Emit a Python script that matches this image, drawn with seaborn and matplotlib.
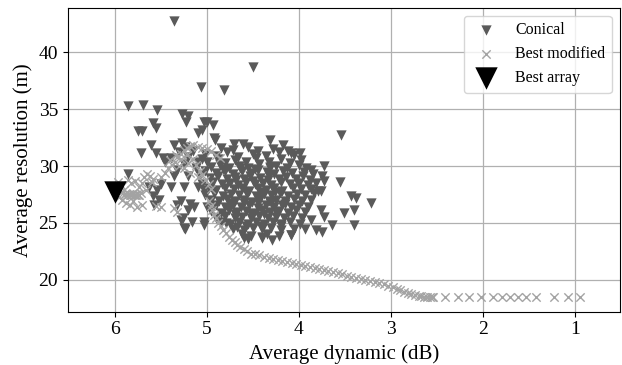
import matplotlib
matplotlib.use("Agg")
import matplotlib.pyplot as plt
import seaborn as sns
import pandas as pd

# ---------------- data ----------------
# Conical arrays: (average dynamic dB, average resolution m)
conical_dyn = [
    # sparse / outlying points
    5.36, 4.50, 5.06, 4.81, 5.86, 5.69, 5.54, 5.27, 5.20, 5.23, 5.58, 5.55, 5.75, 5.70,
    5.03, 5.00, 4.93, 5.05, 5.10, 4.92, 4.91, 5.61, 5.36, 5.27, 5.24, 4.71, 4.61, 4.31,
    4.17, 5.72, 5.55, 5.48, 5.45, 5.39, 4.09, 3.99, 3.54, 3.73, 3.87, 3.75, 3.73, 3.55,
    3.76, 3.44, 3.38, 3.22, 3.40, 3.51, 3.76, 3.73, 3.64, 3.40, 3.82, 3.75, 4.09, 3.94,
    3.87, 5.86, 5.63, 5.50, 5.39, 5.54, 5.59, 5.52, 5.57, 5.28, 5.32, 5.18, 5.25, 5.10,
    5.03, 5.36, 5.21, 5.07, 5.14, 5.21, 5.28, 5.25, 5.16, 5.03, 5.26, 5.24, 5.03, 4.79,
    4.67, 4.40, 4.09, 5.30, 5.20, 5.15, 5.10, 5.25, 5.12, 5.05, 5.32,
    # dense cluster
    4.85, 4.72, 4.55, 4.44, 4.28, 4.12,
    5.02, 4.90, 4.78, 4.66, 4.50, 4.36, 4.22, 4.05,
    5.00, 4.88, 4.80, 4.70, 4.58, 4.47, 4.33, 4.20, 4.10, 3.98,
    4.95, 4.86, 4.76, 4.65, 4.55, 4.43, 4.32, 4.25, 4.13, 4.00, 3.92,
    5.02, 4.90, 4.80, 4.72, 4.62, 4.52, 4.45, 4.35, 4.27, 4.17, 4.08, 3.95, 3.85,
    4.97, 4.88, 4.78, 4.70, 4.60, 4.53, 4.42, 4.33, 4.22, 4.14, 4.03, 3.96, 3.88,
    5.05, 4.93, 4.84, 4.75, 4.66, 4.57, 4.48, 4.39, 4.30, 4.20, 4.10, 4.00, 3.90, 3.82,
    4.98, 4.90, 4.80, 4.71, 4.62, 4.54, 4.45, 4.36, 4.27, 4.18, 4.07, 3.98, 3.87, 3.79,
    5.02, 4.92, 4.83, 4.74, 4.65, 4.56, 4.47, 4.38, 4.30, 4.21, 4.12, 4.02, 3.93, 3.84,
    4.96, 4.87, 4.78, 4.69, 4.60, 4.51, 4.42, 4.33, 4.25, 4.15, 4.05, 3.97, 3.87,
    5.00, 4.90, 4.80, 4.72, 4.63, 4.54, 4.45, 4.36, 4.27, 4.18, 4.09, 4.00, 3.90,
    4.95, 4.85, 4.76, 4.67, 4.58, 4.49, 4.40, 4.31, 4.22, 4.12, 4.03, 3.94,
    4.90, 4.80, 4.70, 4.62, 4.52, 4.43, 4.34, 4.25, 4.16, 4.06, 3.97,
    4.85, 4.75, 4.65, 4.55, 4.47, 4.38, 4.28, 4.19, 4.10, 3.99,
    4.72, 4.60, 4.50, 4.40, 4.30, 4.20, 4.05,
    4.62, 4.52, 4.35, 4.22,
    4.55, 4.40, 4.29, 4.60,
    # extra fill in the core
    4.68, 4.50, 4.34, 4.58, 4.42, 4.26, 4.75, 4.60, 4.45, 4.30, 4.15, 4.70, 4.52, 4.38,
    4.24, 4.82, 4.64, 4.48, 4.32, 4.57, 4.41, 4.20,
]
conical_res = [
    42.8, 38.7, 37.0, 36.65, 35.3, 35.4, 34.96, 34.6, 34.4, 33.9, 33.8, 33.35, 33.05, 33.05,
    33.9, 33.9, 33.6, 33.2, 32.9, 32.5, 32.3, 31.9, 31.9, 32.0, 31.7, 31.95, 31.95, 32.3,
    31.9, 31.15, 31.15, 30.7, 30.4, 30.7, 31.15, 31.15, 32.76, 30.0, 29.7, 29.1, 28.65, 28.6,
    27.8, 27.4, 27.2, 26.74, 26.15, 25.86, 26.16, 25.57, 24.84, 24.84, 24.4, 24.25, 23.96, 24.5,
    25.3, 29.3, 28.2, 28.4, 28.2, 27.9, 27.33, 27.0, 26.6, 26.9, 26.6, 26.7, 28.2, 28.2,
    27.9, 29.1, 29.1, 29.2, 26.45, 26.15, 25.27, 24.54, 25.13, 25.13, 25.4, 24.45, 24.8, 24.98,
    24.69, 23.8, 23.95, 31.2, 30.8, 31.3, 30.4, 30.2, 29.8, 30.6, 29.7,
    31.6, 31.4, 31.7, 31.3, 31.5, 31.35,
    31.1, 30.9, 31.2, 30.8, 31.05, 30.85, 31.2, 30.95,
    30.4, 30.6, 30.3, 30.55, 30.4, 30.7, 30.35, 30.6, 30.3, 30.5,
    29.9, 30.1, 29.85, 30.05, 29.8, 30.15, 29.9, 30.05, 29.8, 30.1, 29.85,
    29.55, 29.4, 29.6, 29.35, 29.55, 29.4, 29.65, 29.45, 29.3, 29.6, 29.4, 29.5, 29.3,
    28.95, 29.1, 28.85, 29.05, 28.9, 29.15, 28.95, 29.1, 28.85, 29.05, 28.9, 29.1, 28.8,
    28.45, 28.6, 28.4, 28.55, 28.35, 28.6, 28.45, 28.55, 28.35, 28.6, 28.4, 28.55, 28.35, 28.5,
    28.05, 27.9, 28.1, 27.95, 28.05, 27.85, 28.1, 27.9, 28.05, 27.85, 28.1, 27.95, 28.0, 27.85,
    27.45, 27.6, 27.4, 27.55, 27.45, 27.6, 27.35, 27.55, 27.45, 27.6, 27.4, 27.55, 27.45, 27.6,
    27.05, 26.9, 27.1, 26.95, 27.05, 26.85, 27.1, 26.95, 27.05, 26.9, 27.1, 26.95, 27.05,
    26.45, 26.6, 26.4, 26.55, 26.45, 26.6, 26.35, 26.55, 26.45, 26.6, 26.4, 26.55, 26.45,
    26.05, 25.9, 26.1, 25.95, 26.05, 25.85, 26.1, 25.95, 26.05, 25.9, 26.1, 25.95,
    25.45, 25.6, 25.4, 25.55, 25.45, 25.6, 25.4, 25.55, 25.45, 25.6, 25.4,
    25.05, 24.9, 25.1, 24.95, 25.05, 24.9, 25.1, 24.95, 25.05, 24.9,
    24.5, 24.4, 24.6, 24.45, 24.55, 24.4, 24.5,
    24.0, 23.9, 24.05, 23.85,
    23.6, 23.7, 23.5, 23.66,
    28.75, 28.7, 28.75, 27.7, 27.75, 27.7, 26.75, 26.8, 26.75, 26.8, 26.7, 25.75, 25.8, 25.75,
    25.8, 29.75, 29.8, 29.75, 29.8, 24.75, 24.75, 24.7,
]

# Best modified arrays
modified_dyn = [
    5.97, 5.93, 5.90, 5.95, 5.92, 5.88, 5.85, 5.82, 5.80, 5.78, 5.76, 5.74, 5.72, 5.86,
    5.82, 5.78, 5.74, 5.70, 5.68, 5.65, 5.62, 5.60, 5.84, 5.80, 5.76, 5.70, 5.50, 5.36,
    5.32, 5.55, 5.90, 5.87, 5.84, 5.81, 5.79, 5.77, 5.75, 5.89, 5.66, 5.58,
    5.50, 5.45, 5.42, 5.38, 5.35, 5.32, 5.28, 5.25, 5.22, 5.18, 5.15, 5.10, 5.05, 5.00,
    4.95, 4.90, 4.86, 5.30, 5.25, 5.20, 5.15, 5.12, 5.08, 5.05, 5.02, 4.98, 4.95, 5.18,
    5.10, 5.40, 5.34, 5.28, 5.22,
    4.98, 4.96, 4.94, 4.92, 4.90, 4.88, 4.85, 4.82, 4.79, 4.76, 4.73, 4.70, 4.67, 4.64,
    4.60, 4.56, 4.52,
    4.48, 4.43, 4.38, 4.33, 4.28, 4.23, 4.18, 4.13, 4.08, 4.03, 3.98, 3.93, 3.88, 3.83,
    3.78, 3.73, 3.68, 3.63, 3.58, 3.53, 3.48, 3.43, 3.38, 3.33, 3.28, 3.23, 3.18, 3.13,
    3.08, 3.03, 2.98, 2.94, 2.90, 2.86, 2.82, 2.78, 2.74, 2.70, 2.67, 2.64, 2.61, 2.58,
    2.56, 2.54,
    2.42, 2.27, 2.15, 2.02, 1.89, 1.80, 1.71, 1.62, 1.53, 1.43, 1.235, 1.08, 0.95,
]
modified_res = [
    28.6, 28.3, 27.9, 27.3, 27.0, 26.8, 27.55, 27.5, 27.6, 27.45, 27.55, 27.5, 27.6, 28.8,
    28.5, 28.7, 28.2, 28.5, 29.0, 29.3, 29.1, 28.6, 26.6, 26.9, 26.4, 26.6, 26.45, 26.3,
    26.0, 26.5, 27.5, 27.45, 27.5, 27.55, 27.45, 27.5, 27.45, 27.55, 27.9, 28.9,
    29.0, 29.4, 29.8, 30.1, 30.4, 30.8, 31.1, 31.4, 31.6, 31.8, 31.9, 31.7, 31.6, 31.5,
    31.3, 31.0, 30.7, 30.0, 29.8, 30.3, 30.6, 30.1, 29.6, 29.2, 28.8, 28.4, 28.0, 29.4,
    29.0, 30.5, 31.0, 30.6, 31.0,
    26.9, 26.5, 26.1, 25.7, 25.4, 25.0, 24.7, 24.4, 24.1, 23.8, 23.5, 23.3, 23.1, 22.9,
    22.7, 22.5, 22.3,
    22.25, 22.15, 22.05, 21.95, 21.85, 21.77, 21.68, 21.6, 21.5, 21.42, 21.32, 21.23, 21.14, 21.05,
    20.97, 20.88, 20.78, 20.68, 20.58, 20.48, 20.38, 20.28, 20.2, 20.1, 20.02, 19.92, 19.83, 19.72,
    19.62, 19.5, 19.37, 19.22, 19.08, 18.95, 18.82, 18.72, 18.65, 18.58, 18.55, 18.52, 18.5, 18.5,
    18.5, 18.5,
    18.5, 18.5, 18.5, 18.5, 18.5, 18.5, 18.5, 18.5, 18.5, 18.5, 18.5, 18.5, 18.5,
]

best_dyn = [6.0]
best_res = [27.7]

series_labels = ["Conical", "Best modified", "Best array"]
x_label = "Average dynamic (dB)"
y_label = "Average resolution (m)"
x_ticks = [6, 5, 4, 3, 2, 1]
y_ticks = [20, 25, 30, 35, 40]

# ---------------- plot ----------------
plt.rcParams["font.family"] = ["Liberation Serif", "DejaVu Serif"]

fig = plt.figure(figsize=(6.22, 3.65), dpi=100)
ax = fig.add_axes([0.109, 0.146, 0.887, 0.832])

df_con = pd.DataFrame({"x": conical_dyn, "y": conical_res})
df_mod = pd.DataFrame({"x": modified_dyn, "y": modified_res})
df_best = pd.DataFrame({"x": best_dyn, "y": best_res})

sns.scatterplot(data=df_con, x="x", y="y", marker="v", color="#5a5a5a", s=55,
                linewidth=0, label=series_labels[0], ax=ax, zorder=3)
sns.scatterplot(data=df_mod, x="x", y="y", marker="x", color="#a3a3a3", s=36,
                linewidth=1.0, label=series_labels[1], ax=ax, zorder=4)
sns.scatterplot(data=df_best, x="x", y="y", marker="v", color="black", s=260,
                linewidth=0, label=series_labels[2], ax=ax, zorder=5)

ax.set_xlim(6.51, 0.52)
ax.set_ylim(17.2, 43.9)
ax.set_xticks(x_ticks)
ax.set_yticks(y_ticks)
ax.grid(True, color="#b0b0b0", linewidth=0.9, zorder=0)
ax.set_axisbelow(True)
ax.tick_params(labelsize=14)
ax.set_xlabel(x_label, fontsize=15)
ax.set_ylabel(y_label, fontsize=15)
ax.legend(loc="upper right", fontsize=11.5, borderaxespad=0.5)

fig.savefig("out.png", dpi=100)
